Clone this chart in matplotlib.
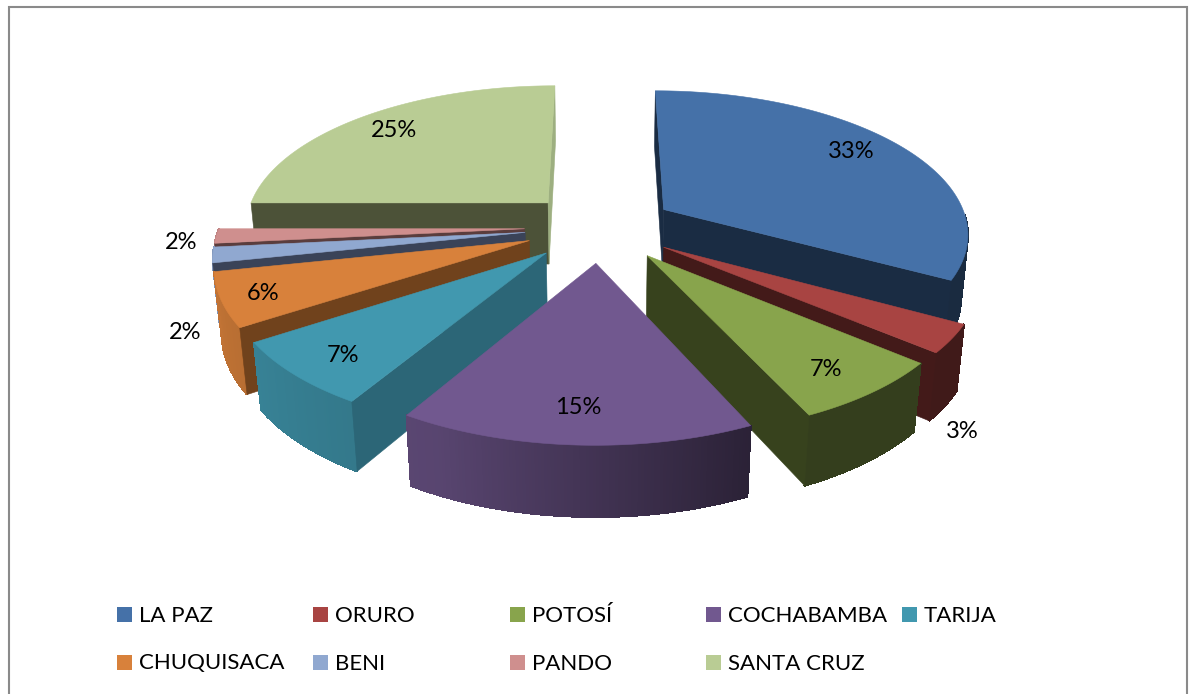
#exploded 3d pie, drawn by hand since matplotlib has no perspective pie
import numpy as np
import matplotlib
matplotlib.use("Agg")
import matplotlib.pyplot as plt
from matplotlib.colors import to_rgb
from matplotlib.patches import Polygon, Rectangle

plt.rcParams['font.family'] = ['Lato', 'DejaVu Sans']

regions = ["LA PAZ", "ORURO", "POTOSÍ", "COCHABAMBA", "TARIJA",
           "CHUQUISACA", "BENI", "PANDO", "SANTA CRUZ"]
shares = [33, 3.1, 7.0, 15.49, 7.21, 5.9, 1.7, 1.6, 25]
top_colors = ["#4571a8", "#a84442", "#88a44c", "#71588f", "#4198af",
              "#d8813b", "#90a8d0", "#cf8f8e", "#b9cc94"]
side_colors = ["#1a2c43", "#431a19", "#37421d", "#2a1f38", "#2c6677",
               "#70421c", "#3a4358", "#5a3d3d", "#4c5238"]
end_wall_santa_cruz = "#9daf80"
label_x = [851, 962, 826, 578, 343, 263, 185, 181, 394]
label_y = [151, 431, 369, 407, 355, 293, 332, 242, 130]
legend_x = [117, 313, 510, 706, 902, 117, 313, 510, 706]
legend_y = [607, 607, 607, 607, 607, 655, 655, 655, 655]

draw_order = [8, 0, 7, 6, 5, 1, 4, 2, 3]

# view settings
cx, cy = 600, 227
f = 305
tilt = np.radians(27.7)
cam = 5.8
depth = 0.235
explode = 0.247


def project(x, y, z):
    s = cam / (cam + y * np.cos(tilt) - z * np.sin(tilt))
    return cx + f * x * s, cy - f * (y * np.sin(tilt) + z * np.cos(tilt)) * s


def shade(angle):
    return np.interp(angle, [90, 155, 205, 235, 270], [.38, .38, .78, .85, .92])


def scaled(color, k):
    return tuple(c * k for c in to_rgb(color))


fig = plt.figure(figsize=(11.94, 6.94), dpi=100)
ax = fig.add_axes([0, 0, 1, 1])
ax.set_xlim(0, 1194)
ax.set_ylim(694, 0)
ax.axis("off")

ax.add_patch(Rectangle((9, 7), 1178, 700, fc="white", ec="#8a8a8a", lw=1.5))

edges = np.concatenate([[0], np.cumsum(shares)]) * 3.6

for i in draw_order:
    a0, a1 = edges[i], edges[i + 1]
    mid = np.radians((a0 + a1) / 2)
    ox, oy = explode * np.sin(mid), explode * np.cos(mid)
    angles = np.linspace(a0, a1, int((a1 - a0) * 2) + 2)
    rad = np.radians(angles)
    rim_x = ox + np.sin(rad)
    rim_y = oy + np.cos(rad)

    # outer wall, only the part facing the viewer, short steps for the gradient
    for j in range(len(angles) - 1):
        if angles[j] < 92 or angles[j] >= 270:
            continue
        pts = [project(rim_x[j], rim_y[j], 0), project(rim_x[j + 1], rim_y[j + 1], 0),
               project(rim_x[j + 1], rim_y[j + 1], -depth), project(rim_x[j], rim_y[j], -depth)]
        col = scaled(top_colors[i], shade(angles[j]))
        ax.add_patch(Polygon(pts, fc=col, ec=col, lw=0.8, antialiased=False))

    # radial walls
    for k, rx, ry in [(0, rim_x[0], rim_y[0]), (1, rim_x[-1], rim_y[-1])]:
        # front slices hide these behind the top and outer wall anyway
        if i == 3:
            continue
        pts = [project(ox, oy, 0), project(rx, ry, 0),
               project(rx, ry, -depth), project(ox, oy, -depth)]
        col = side_colors[i]
        if i == 8 and k == 1:
            col = end_wall_santa_cruz
        # the wall that faces away must not paint over the outer wall
        if i in (1, 2) and k == 0:
            continue
        if i in (4, 5, 6, 7) and k == 1:
            continue
        ax.add_patch(Polygon(pts, fc=col, ec=col, lw=0.4))

    top = [project(ox, oy, 0)] + [project(a, b, 0) for a, b in zip(rim_x, rim_y)]
    ax.add_patch(Polygon(top, fc=top_colors[i], ec=top_colors[i], lw=0.4))

for i in range(len(regions)):
    ax.text(label_x[i], label_y[i], f"{shares[i]:.0f}%", fontsize=17, color="black",
            ha="center", va="center")
    ax.add_patch(Rectangle((legend_x[i], legend_y[i]), 15, 15, fc=top_colors[i], ec="none"))
    ax.text(legend_x[i] + 22, legend_y[i] + 8.5, regions[i], fontsize=16, color="black",
            ha="left", va="center")

fig.savefig("out.png", dpi=100)
